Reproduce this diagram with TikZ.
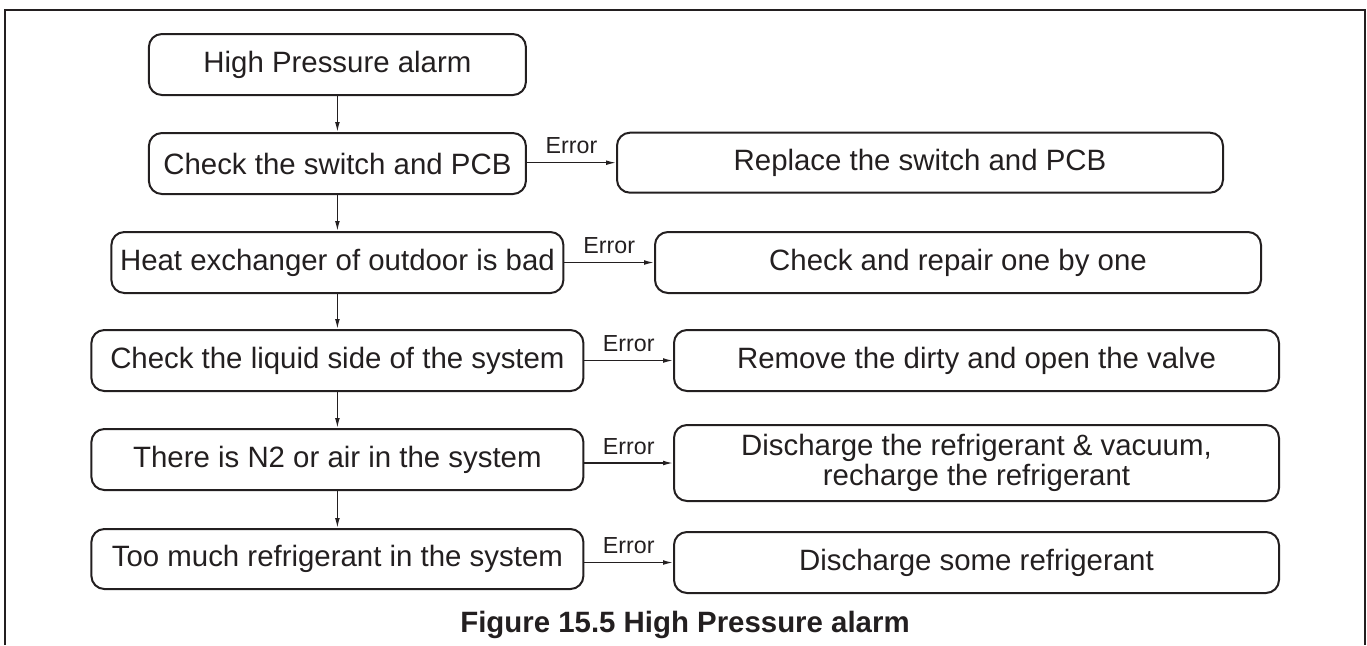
\documentclass[tikz,border=0pt]{standalone}
\usepackage{fontspec}
\setmainfont{Liberation Sans}
\usetikzlibrary{arrows.meta}
\definecolor{ink}{RGB}{35,31,32}
\tikzset{
  box/.style={draw=ink, line width=1pt, rounded corners=6.5pt, inner sep=0pt,
    align=center, text=ink, font=\fontsize{14.7}{15}\selectfont,
    minimum height=30.5pt},
  flow/.style={draw=ink, line width=0.65pt, -{Latex[length=5pt,width=2.4pt]}},
  errlbl/.style={above, inner sep=0pt, yshift=4pt, text=ink, font=\fontsize{11.6}{13}\selectfont},
}
\begin{document}
\begin{tikzpicture}[x=0.5pt,y=-0.5pt]
\useasboundingbox (0,0) rectangle (1367,645);
\draw[ink, line width=1pt] (4.5,645) -- (4.5,9.5) -- (1365,9.5) -- (1365,645);
% left column
\node[box, minimum width=188.5pt] (b1) at (337.4,64.5) {High Pressure alarm};
\node[box, minimum width=188.5pt] (b2) at (337.4,163.5) {Check the switch and PCB};
\node[box, minimum width=226pt] (b3) at (337.4,262.5) {Heat exchanger of outdoor is bad};
\node[box, minimum width=246pt] (b4) at (337.4,360.5) {Check the liquid side of the system};
\node[box, minimum width=246pt] (b5) at (337.4,459.5) {There is N2 or air in the system};
\node[box, minimum width=246pt, minimum height=30pt] (b6) at (337.4,559) {Too much refrigerant in the system};
% right column
\node[box, minimum width=303pt, minimum height=30pt] (r1) at (920,162.7) {Replace the switch and PCB};
\node[box, minimum width=303pt] (r2) at (958,262.5) {Check and repair one by one};
\node[box, minimum width=302.5pt] (r3) at (976.5,360.5) {Remove the dirty and open the valve};
\node[box, minimum width=302.5pt, minimum height=38pt] (r4) at (976.5,463) {Discharge the refrigerant \& vacuum,\\recharge the refrigerant};
\node[box, minimum width=302.5pt] (r5) at (976.5,562.5) {Discharge some refrigerant};
% vertical flow
\foreach \a/\b in {b1/b2,b2/b3,b3/b4,b4/b5,b5/b6}
  \draw[flow] (\a.south) -- (\a.south |- \b.north);
% error arrows
\foreach \a/\b in {b2/r1,b3/r2,b4/r3,b5/r4,b6/r5}
  \draw[flow] (\b.west -| \a.east) -- node[errlbl]{Error} (\b.west);
% caption
\node[text=ink, font=\bfseries\fontsize{14.7}{16}\selectfont] (cap) at (685,625) {Figure 15.5 High Pressure alarm};
\end{tikzpicture}
\end{document}
